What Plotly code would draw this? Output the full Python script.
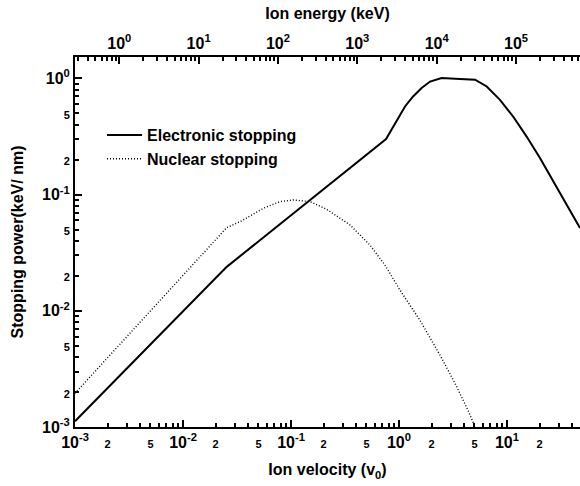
import plotly.graph_objects as go
import math

# ---- data ----
v_elec = [0.001, 0.0254, 0.759, 0.843, 0.953, 1.137, 1.35, 1.62, 1.94, 2.48, 3.67, 5.06, 6.49, 8.61, 11.4, 15.2, 20.2, 47.4]
s_elec = [1.12e-3, 0.0239, 0.301, 0.354, 0.44, 0.574, 0.70, 0.826, 0.94, 1.01, 0.99, 0.975, 0.853, 0.655, 0.47, 0.316, 0.207, 0.0516]

v_nuc = [0.001, 0.0254, 0.0337, 0.0555, 0.0791, 0.105, 0.150, 0.214, 0.352, 0.538, 0.741, 1.02, 1.56, 2.40, 3.30, 4.36, 5.06]
s_nuc = [1.95e-3, 0.052, 0.0585, 0.0764, 0.0871, 0.090, 0.0871, 0.0748, 0.0548, 0.0368, 0.0248, 0.0151, 0.00832, 0.00415, 0.00238, 0.00139, 0.0010]

series_names = ["Electronic stopping", "Nuclear stopping"]

x_major = [1e-3, 1e-2, 1e-1, 1e0, 1e1]
x_major_text = ["10<sup>-3</sup>", "10<sup>-2</sup>", "10<sup>-1</sup>", "10<sup>0</sup>", "10<sup>1</sup>"]
x_sub = [2e-3, 5e-3, 2e-2, 5e-2, 2e-1, 5e-1, 2, 5, 20]
y_major = [1e-3, 1e-2, 1e-1, 1e0]
y_major_text = ["10<sup>-3</sup>", "10<sup>-2</sup>", "10<sup>-1</sup>", "10<sup>0</sup>"]
y_sub = [2e-3, 5e-3, 2e-2, 5e-2, 2e-1, 5e-1]
e_major = [1, 10, 100, 1e3, 1e4, 1e5]
e_major_text = ["10<sup>0</sup>", "10<sup>1</sup>", "10<sup>2</sup>", "10<sup>3</sup>", "10<sup>4</sup>", "10<sup>5</sup>"]

X_RANGE = [-3, 1.676]
Y_RANGE = [-3, 0.1845]
E_RANGE = [-0.558, 5.806]

FONT = "Liberation Sans, Arial, sans-serif"


def sub_label(v):
    m = round(v / 10 ** math.floor(math.log10(v) + 1e-9))
    return f"<span style='font-size:11px'>{m}</span>"


def minors(lo, hi, skip=()):
    out = []
    for d in range(math.floor(lo) - 1, math.ceil(hi) + 1):
        for m in range(2, 10):
            if m in skip:
                continue
            val = m * 10 ** d
            if lo <= math.log10(val) <= hi:
                out.append(val)
    return out


fig = go.Figure()
fig.add_trace(go.Scatter(x=v_elec, y=s_elec, mode="lines", name=series_names[0],
                         line=dict(color="black", width=2)))
fig.add_trace(go.Scatter(x=v_nuc, y=s_nuc, mode="lines", name=series_names[1],
                         line=dict(color="black", width=1.4, dash="1px,2px")))
# invisible helpers so the extra axes are drawn
fig.add_trace(go.Scatter(x=e_major, y=[0.01] * len(e_major), xaxis="x2", yaxis="y", mode="lines",
                         line=dict(width=0), opacity=0, showlegend=False, hoverinfo="skip"))
fig.add_trace(go.Scatter(x=v_elec, y=s_elec, xaxis="x3", yaxis="y3", mode="lines",
                         line=dict(width=0), opacity=0, showlegend=False, hoverinfo="skip"))

tickfont = dict(family=FONT, size=16, color="black", weight="bold")
titlefont = dict(family=FONT, size=16, color="black", weight="bold")

fig.update_layout(
    width=580, height=486,
    margin=dict(l=75, r=0, t=57, b=59, autoexpand=False),
    paper_bgcolor="white", plot_bgcolor="white",
    font=dict(family=FONT, color="black"),
    showlegend=True,
    legend=dict(x=0.0535, y=0.835, xanchor="left", yanchor="top",
                font=dict(family=FONT, size=16, color="black", weight="bold"),
                bgcolor="rgba(0,0,0,0)", itemwidth=35, tracegroupgap=0),
    xaxis=dict(type="log", range=X_RANGE, showgrid=False, zeroline=False,
               showline=True, linewidth=2, linecolor="black",
               tickmode="array", tickvals=x_major + x_sub,
               ticktext=x_major_text + [sub_label(v) for v in x_sub],
               ticks="inside", ticklen=4, tickwidth=1.5, tickcolor="black",
               tickfont=tickfont,
               minor=dict(tickmode="array", tickvals=minors(*X_RANGE, skip=(2, 5)),
                          ticks="inside", ticklen=4, tickwidth=1.5, tickcolor="black"),
               title=dict(text="Ion velocity (v<sub>0</sub>)", font=titlefont, standoff=14),
               automargin=False),
    xaxis3=dict(type="log", range=X_RANGE, overlaying="x", side="bottom", anchor="y",
                showgrid=False, zeroline=False, showline=False,
                tickmode="array", tickvals=x_major, showticklabels=False,
                ticks="inside", ticklen=7, tickwidth=2, tickcolor="black", automargin=False),
    xaxis2=dict(type="log", range=E_RANGE, overlaying="x", side="top", anchor="y",
                showgrid=False, zeroline=False, showline=True, linewidth=2, linecolor="black",
                tickmode="array", tickvals=e_major, ticktext=e_major_text,
                ticks="inside", ticklen=7, tickwidth=2, tickcolor="black",
                tickfont=tickfont,
                minor=dict(tickmode="array", tickvals=minors(*E_RANGE),
                           ticks="inside", ticklen=4, tickwidth=1.5, tickcolor="black"),
                title=dict(text="Ion energy (keV)", font=titlefont, standoff=8),
                automargin=False),
    yaxis=dict(type="log", range=Y_RANGE, showgrid=False, zeroline=False,
               showline=True, linewidth=2, linecolor="black",
               tickmode="array", tickvals=y_major + y_sub,
               ticktext=y_major_text + [sub_label(v) for v in y_sub],
               ticks="inside", ticklen=4, tickwidth=1.5, tickcolor="black",
               tickfont=tickfont,
               minor=dict(tickmode="array", tickvals=minors(*Y_RANGE, skip=(2, 5)),
                          ticks="inside", ticklen=4, tickwidth=1.5, tickcolor="black"),
               title=dict(text="Stopping power(keV/ nm)", font=titlefont, standoff=14),
               automargin=False),
    yaxis3=dict(type="log", range=Y_RANGE, overlaying="y", side="left", anchor="x",
                showgrid=False, zeroline=False, showline=False,
                tickmode="array", tickvals=y_major, showticklabels=False,
                ticks="inside", ticklen=7, tickwidth=2, tickcolor="black", automargin=False),
)

fig.write_html("out.html")
